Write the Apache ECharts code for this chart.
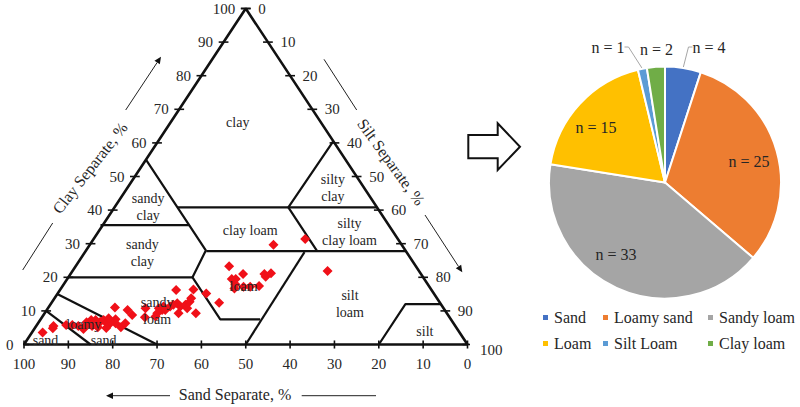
<!DOCTYPE html>
<html>
<head>
<meta charset="utf-8">
<title>Soil texture triangle and pie</title>
<style>
  html, body { margin: 0; padding: 0; background: #fff; }
  #chart { width: 800px; height: 407px; }
</style>
<script src="https://cdn.jsdelivr.net/npm/echarts@6/dist/echarts.min.js"></script>
</head>
<body>
<div id="chart"></div>
<script>
// every triangle value is [sand %, clay %]
var sampleSoils = [
  [94, 3.6], [91.1, 4.8], [90.6, 5.5], [87.6, 5.8], [86.2, 5.8], [85, 5.5], [83.4, 5.5], [81.2, 7.3],
  [81.9, 5.5], [80.8, 5.1], [79.4, 6.8], [78.1, 6.3], [75.6, 7.5], [76.2, 6.3], [77.4, 6.3], [75.6, 5.1],
  [74, 6.3], [74, 11], [71.5, 10.3], [71.2, 8.8], [80.2, 7.3], [78.4, 7.3], [67.2, 10.8], [68.7, 8.1],
  [57.6, 16.2], [53.6, 16.4], [51.3, 15.2], [49.8, 12.4], [56.6, 9.3], [60.5, 9.3], [64.2, 10.8], [63.7, 10.3],
  [65.3, 9.3], [63, 10.3], [61.4, 11.3], [59.3, 12.3], [59.1, 11.3], [57.7, 11.8], [56.3, 12.7], [57.8, 10.8],
  [55.4, 13.8], [62.9, 11.3], [66.2, 8.3], [60.4, 11.8], [42.1, 23.3], [40.1, 21], [43.4, 19.5], [42.5, 19.5],
  [44.2, 16.7], [43.4, 17.9], [41.9, 17.2], [40.4, 17.2], [38.3, 17.4], [35.3, 21], [35.4, 20.2], [33.7, 21.2],
  [28.9, 29.7], [20.9, 31.4], [20.6, 21.9], [84.3, 4.6], [82.6, 6.6], [79, 4.9], [77, 7.8]
];

var triangleEdge = [[100, 0], [0, 100], [0, 0], [100, 0]];

var zoneLines = [
  [[45, 55], [45, 28], [52, 20], [52, 7.5], [43, 7.5]],
  [[50, 0], [23, 27.5]],
  [[45, 27.8], [0, 27.8]],
  [[45, 40.8], [0, 40.8]],
  [[0, 60.5], [20, 40.8], [20, 27.8]],
  [[65, 35.5], [45, 35.5]],
  [[80, 20], [52, 20]],
  [[85, 15], [70, 0]],
  [[90, 10], [85, 0]],
  [[20, 0], [8, 12], [0, 12]]
];

var zoneNames = [
  ['clay', 18.7, 66.2], ['sandy\nclay', 51.5, 41], ['clay loam', 32.1, 33.8], ['sandy\nclay', 59.7, 27.2],
  ['silty\nclay', 7, 46.7], ['silty\nclay loam', 9.8, 33.6], ['silt\nloam', 20.5, 12], ['silt', 7.6, 4],
  ['loam', 41.8, 17.4], ['sandy\nloam', 65, 10], ['loamy', 83.5, 6], ['sand', 94.5, 1.3], ['sand', 81.4, 1.3]
];

var tickValues = [0, 10, 20, 30, 40, 50, 60, 70, 80, 90, 100];

var pieNames = ['Sand', 'Loamy sand', 'Sandy loam', 'Loam', 'Silt Loam', 'Clay loam'];
var pieCounts = [4, 25, 33, 15, 1, 2];
var pieColors = ['#4472C4', '#ED7D31', '#A5A5A5', '#FFC000', '#5B9BD5', '#70AD47'];

var serif = '"Liberation Serif", "Times New Roman", serif';
var ink = '#262626';
var lineBlack = '#111';

// sand/clay -> x/y of the plain cartesian grid under the triangle
function toGrid(p) {
  return [p[0] + p[1] / 2, p[1]];
}

function polyline(gridPoints, width) {
  return {
    type: 'line',
    data: gridPoints,
    showSymbol: false,
    silent: true,
    clip: false,
    z: 2,
    lineStyle: { color: lineBlack, width: width },
    itemStyle: { color: lineBlack }
  };
}

function textMarks(items, label) {
  return {
    type: 'scatter',
    data: items,
    symbolSize: 1,
    silent: true,
    clip: false,
    z: 6,
    itemStyle: { color: 'rgba(0,0,0,0)' },
    label: Object.assign({
      show: true,
      opacity: 1,
      fontFamily: serif,
      color: ink,
      formatter: '{b}'
    }, label)
  };
}

var series = [];
series.push(polyline(triangleEdge.map(toGrid), 2.6));
zoneLines.forEach(function(z) { series.push(polyline(z.map(toGrid), 2.2)); });

tickValues.forEach(function(v) {
  // clay ticks on the left edge, silt ticks on the right edge, sand ticks on the base
  var left = toGrid([100 - v, v]);
  var right = toGrid([0, 100 - v]);
  var base = toGrid([v, 0]);
  series.push(polyline([[left[0] + 1.1, left[1]], [left[0] - 1.1, left[1]]], 1.6));
  series.push(polyline([[right[0] + 1.1, right[1]], [right[0] - 1.1, right[1]]], 1.6));
  series.push(polyline([[base[0], -1.2], [base[0], 1.2]], 1.6));
});

series.push({
  type: 'scatter',
  data: sampleSoils.map(toGrid),
  symbol: 'diamond',
  symbolSize: 10,
  silent: true,
  z: 4,
  itemStyle: { color: '#F01018', opacity: 1 }
});

series.push(textMarks(tickValues.map(function(v) {
  return { name: String(v), value: toGrid([100 - v, v]) };
}), { position: 'left', distance: 10, fontSize: 15 }));

series.push(textMarks(tickValues.map(function(v) {
  return {
    name: String(v),
    value: toGrid([0, 100 - v]),
    label: v === 100 ? { offset: [0, 5] } : {}
  };
}), { position: 'right', distance: 12, fontSize: 15 }));

series.push(textMarks(zoneNames.map(function(z) {
  return { name: z[0], value: toGrid([z[1], z[2]]) };
}), { position: 'inside', fontSize: 14, lineHeight: 17, align: 'center', verticalAlign: 'middle' }));

var pieLabelSpots = [[709, 47], [749, 161], [616, 254], [596, 127], [608, 47], [656.5, 49]];

series.push({
  type: 'pie',
  center: [665, 182.5],
  radius: 116,
  startAngle: 90,
  silent: true,
  avoidLabelOverlap: false,
  data: pieNames.map(function(name, i) {
    var inside = pieCounts[i] >= 15;
    return {
      name: name,
      value: pieCounts[i],
      itemStyle: { color: pieColors[i] },
      label: { position: inside ? 'inside' : 'outside' },
      labelLine: { show: !inside && name !== 'Clay loam' }
    };
  }),
  itemStyle: { borderColor: '#fff', borderWidth: 2 },
  label: { fontFamily: serif, fontSize: 16, color: ink, formatter: 'n = {c}' },
  labelLine: { length: 4, length2: 4, lineStyle: { color: '#A6A6A6', width: 1 } },
  labelLayout: function(p) {
    var spot = pieLabelSpots[p.dataIndex];
    return { x: spot[0], y: spot[1], align: 'center', verticalAlign: 'middle' };
  }
});

function legendColumn(left, names) {
  return {
    left: left,
    top: 304,
    orient: 'vertical',
    data: names,
    icon: 'rect',
    itemWidth: 7,
    itemHeight: 7,
    itemGap: 9,
    selectedMode: false,
    textStyle: { fontFamily: serif, fontSize: 16, color: ink, lineHeight: 17 }
  };
}

function arrowLine(x1, y1, x2, y2) {
  var a = Math.atan2(y2 - y1, x2 - x1);
  var back = 7, half = 3.2;
  var bx = x2 - back * Math.cos(a), by = y2 - back * Math.sin(a);
  return [
    { type: 'line', shape: { x1: x1, y1: y1, x2: bx, y2: by }, style: { stroke: '#222', lineWidth: 1 } },
    {
      type: 'polygon',
      shape: { points: [[x2, y2], [bx + half * Math.sin(a), by - half * Math.cos(a)], [bx - half * Math.sin(a), by + half * Math.cos(a)]] },
      style: { fill: '#111' }
    }
  ];
}

function plainLine(x1, y1, x2, y2) {
  return { type: 'line', shape: { x1: x1, y1: y1, x2: x2, y2: y2 }, style: { stroke: '#222', lineWidth: 1 } };
}

function axisTitle(text, x, y, rotation) {
  return {
    type: 'text',
    x: x,
    y: y,
    rotation: rotation,
    style: { text: text, font: '16px ' + serif, fill: ink, textAlign: 'center', textVerticalAlign: 'middle' }
  };
}

var decorations = [
  axisTitle('Clay Separate, %', 90, 168, 52 * Math.PI / 180),
  axisTitle('Silt Separate, %', 391, 162, -54 * Math.PI / 180),
  axisTitle('Sand Separate, %', 235, 394, 0),
  plainLine(52.7, 223, 22.7, 270),
  plainLine(324, 59.3, 356.7, 110),
  plainLine(376, 395.7, 301.7, 395.7),
  {
    type: 'polygon',
    shape: { points: [[468.3, 135], [497.7, 135], [497.7, 123.3], [520, 146.7], [497.7, 170], [497.7, 158.3], [468.3, 158.3]] },
    style: { fill: '#fff', stroke: '#111', lineWidth: 2 }
  }
].concat(arrowLine(125.7, 110, 161, 56.7), arrowLine(425, 215, 462.3, 272.3), arrowLine(170, 395.7, 106, 395.7));

var chart = echarts.init(document.getElementById('chart'), null, { renderer: 'svg' });
chart.setOption({
  animation: false,
  backgroundColor: '#fff',
  grid: { left: 24, top: 8.5, width: 443.5, height: 336 },
  xAxis: {
    type: 'value',
    inverse: true,
    min: 0,
    max: 100,
    interval: 10,
    splitLine: { show: false },
    axisLine: { show: false },
    axisTick: { show: false },
    axisLabel: { fontFamily: serif, fontSize: 15, color: ink, margin: 12, hideOverlap: false }
  },
  yAxis: { type: 'value', min: 0, max: 100, show: false },
  legend: [
    legendColumn(536, ['Sand', 'Loam']),
    legendColumn(596, ['Loamy sand', 'Silt Loam']),
    legendColumn(701, ['Sandy loam', 'Clay loam'])
  ],
  graphic: decorations,
  series: series
});
window.addEventListener('resize', function() { chart.resize(); });
</script>
</body>
</html>
